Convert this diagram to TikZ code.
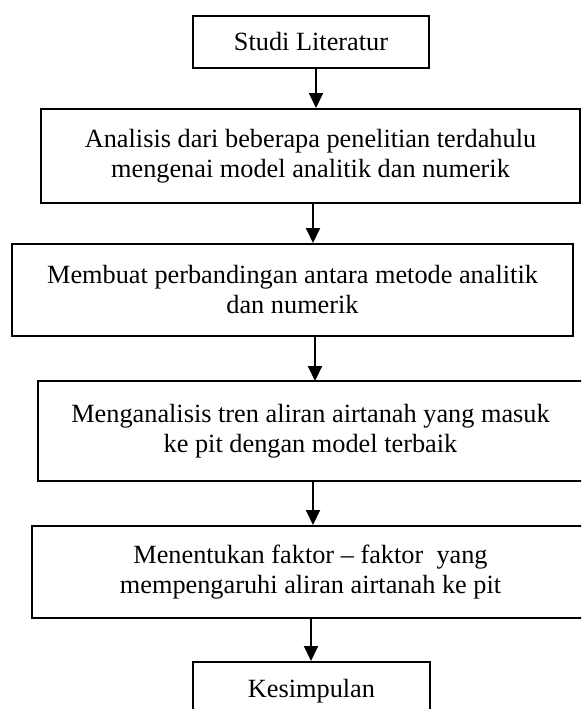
\documentclass[tikz,border=0pt]{standalone}
\usepackage{fontspec}
\setmainfont{Liberation Serif}
\usetikzlibrary{arrows.meta}
\begin{document}
\begin{tikzpicture}[x=1pt,y=-1pt,
  box/.style={draw=black,line width=2pt,inner sep=0pt,align=center,
    font=\fontsize{26.3}{30}\selectfont},
  arr/.style={line width=2pt,-{Triangle[width=14pt,length=15pt]}}]
\useasboundingbox (0,0) rectangle (581,709);
\clip (0,0) rectangle (581,709);
\node[box,minimum width=236pt,minimum height=52pt] (b1) at (311,42) {Studi Literatur};
\node[box,minimum width=539pt,minimum height=94pt] (b2) at (310.5,156)
  {Analisis dari beberapa penelitian terdahulu\\mengenai model analitik dan numerik};
\node[box,minimum width=561pt,minimum height=92pt] (b3) at (292.5,290)
  {Membuat perbandingan antara metode analitik\\dan numerik};
\node[box,draw=none,minimum width=543pt,minimum height=98pt] (b4) at (310.5,431)
  {Menganalisis tren aliran airtanah yang masuk\\ke pit dengan model terbaik};
\draw[line width=2pt] (b4.south west) rectangle ([xshift=12pt]b4.north east);
\node[box,minimum width=557pt,minimum height=92pt] (b5) at (310.5,572)
  {Menentukan faktor – faktor\ \ yang\\mempengaruhi aliran airtanah ke pit};
\node[box,minimum width=237pt,minimum height=58pt] (b6) at (311.5,691) {Kesimpulan};
\coordinate (x1) at (316,0);
\coordinate (x2) at (313,0);
\coordinate (x3) at (315,0);
\coordinate (x4) at (313,0);
\coordinate (x5) at (311,0);
\draw[arr] (b1.south -| x1) -- (b2.north -| x1);
\draw[arr] (b2.south -| x2) -- (b3.north -| x2);
\draw[arr] (b3.south -| x3) -- (b4.north -| x3);
\draw[arr] (b4.south -| x4) -- (b5.north -| x4);
\draw[arr] (b5.south -| x5) -- (b6.north -| x5);
\end{tikzpicture}
\end{document}
